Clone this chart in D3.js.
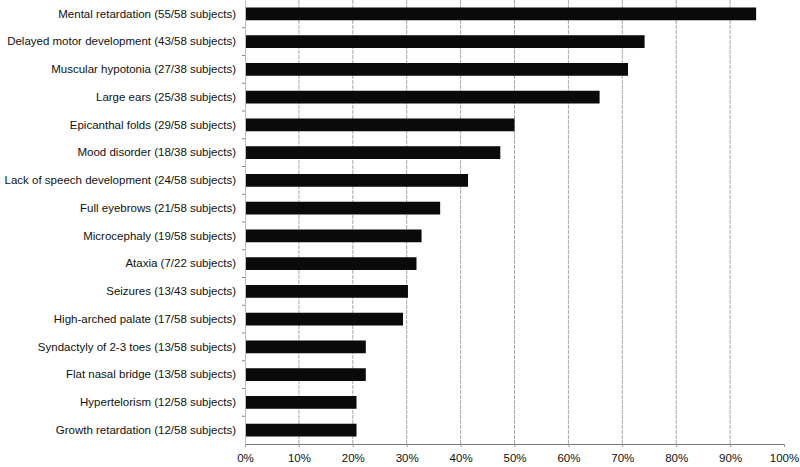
<!DOCTYPE html>
<html><head><meta charset="utf-8">
<script src="https://cdn.jsdelivr.net/npm/d3@7"></script>
<style>body{margin:0;background:#fff}svg{display:block}</style>
</head><body>
<svg id="c" width="800" height="467"></svg>
<script>
const categories = [
  "Mental retardation (55/58 subjects)",
  "Delayed motor development (43/58 subjects)",
  "Muscular hypotonia (27/38 subjects)",
  "Large ears (25/38 subjects)",
  "Epicanthal folds (29/58 subjects)",
  "Mood disorder (18/38 subjects)",
  "Lack of speech development (24/58 subjects)",
  "Full eyebrows (21/58 subjects)",
  "Microcephaly (19/58 subjects)",
  "Ataxia (7/22 subjects)",
  "Seizures (13/43 subjects)",
  "High-arched palate (17/58 subjects)",
  "Syndactyly of 2-3 toes (13/58 subjects)",
  "Flat nasal bridge (13/58 subjects)",
  "Hypertelorism (12/58 subjects)",
  "Growth retardation (12/58 subjects)"
];
const affected = [55, 43, 27, 25, 29, 18, 24, 21, 19, 7, 13, 17, 13, 13, 12, 12];
const examined = [58, 58, 38, 38, 58, 38, 58, 58, 58, 22, 43, 58, 58, 58, 58, 58];
const xTicks = [0, 0.1, 0.2, 0.3, 0.4, 0.5, 0.6, 0.7, 0.8, 0.9, 1.0];

const data = categories.map((c, i) => ({cat: c, v: affected[i] / examined[i]}));

const m = {left: 245, right: 16, top: 0, bottom: 23};
const W = 800, H = 467;
const svg = d3.select("#c");
const g = svg.append("g").attr("transform", `translate(${m.left},${m.top})`);
const iw = W - m.left - m.right, ih = H - m.top - m.bottom;

const x = d3.scaleLinear().domain([0, 1]).range([0, iw]);
const y = d3.scaleBand().domain(categories).range([0, ih]).paddingInner(0.54).paddingOuter(0.27);

// gridlines
g.selectAll("line.grid").data(xTicks.filter(t => t > 0 && t < 1)).join("line")
  .attr("class", "grid")
  .attr("x1", d => x(d)).attr("x2", d => x(d))
  .attr("y1", 0).attr("y2", ih)
  .attr("stroke", "#a8a8a8").attr("stroke-width", 1)
  .attr("stroke-dasharray", "4,1");

// bars
g.selectAll("rect.bar").data(data).join("rect")
  .attr("class", "bar")
  .attr("x", 0).attr("y", d => y(d.cat))
  .attr("width", d => x(d.v)).attr("height", y.bandwidth())
  .attr("fill", "#0a0a0a");

const font = "Liberation Sans, Arial, sans-serif";

// x axis
const xa = g.append("g").attr("transform", `translate(0,${ih})`)
  .call(d3.axisBottom(x).tickValues(xTicks).tickFormat(d3.format(".0%")).tickSize(3).tickPadding(7));
xa.select(".domain").attr("stroke", "#777");
xa.selectAll(".tick line").attr("stroke", "#999");
xa.selectAll("text").attr("font-family", font).attr("font-size", 11.5).attr("fill", "#111");

// y axis
const ya = g.append("g")
  .call(d3.axisLeft(y).tickSize(0).tickPadding(9));
ya.select(".domain").attr("stroke", "#bbb");
ya.selectAll("text").attr("font-family", font).attr("font-size", 11.5).attr("fill", "#111");
// small tick marks at band boundaries
const bounds = d3.range(1, categories.length).map(i => y(categories[i]) - y.step() * y.paddingInner() / 2);
g.selectAll("line.yt").data(bounds).join("line")
  .attr("class", "yt")
  .attr("x1", -3).attr("x2", 0).attr("y1", d => d).attr("y2", d => d)
  .attr("stroke", "#888");
</script>
</body></html>
